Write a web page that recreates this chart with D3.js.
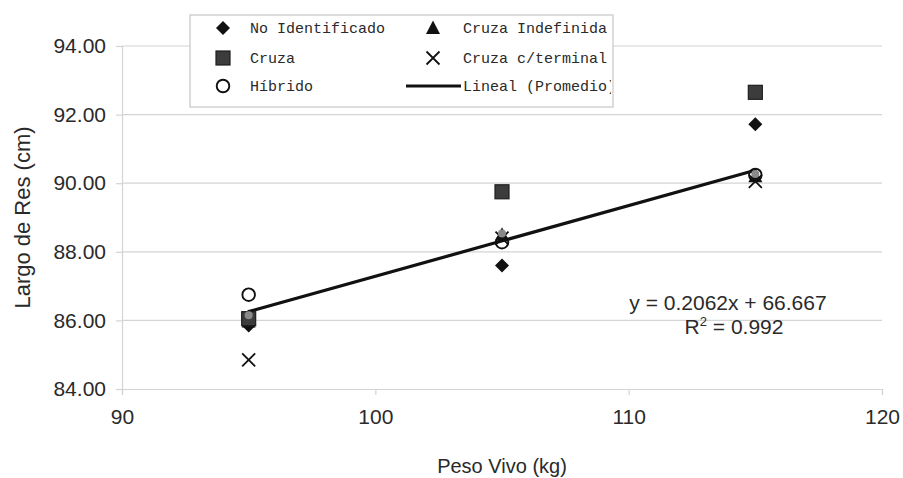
<!DOCTYPE html>
<html>
<head>
<meta charset="utf-8">
<script src="https://cdn.jsdelivr.net/npm/d3@7"></script>
<style>
  html, body { margin: 0; padding: 0; background: #fff; }
  svg { display: block; }
  text { font-family: "Liberation Sans", Arial, sans-serif; fill: #2a2a2a; }
</style>
</head>
<body>
<svg id="chart" width="903" height="478"></svg>
<script>
// ---- Data ----
const pesoVivo = [95, 105, 115];
const noIdentificado = [85.85, 87.6, 91.72];
const cruza = [86.05, 89.75, 92.65];
const hibrido = [86.75, 88.28, 90.24];
const cruzaIndefinida = [85.97, 88.5, 90.2];
const cruzaTerminal = [84.85, 88.4, 90.05];
const promedio = [86.15, 88.53, 90.27];
const xTicks = [90, 100, 110, 120];
const yTicks = [84, 86, 88, 90, 92, 94];
const legendLabels = ["No Identificado", "Cruza Indefinida", "Cruza", "Cruza c/terminal", "Híbrido", "Lineal (Promedio)"];
const equationText = "y = 0.2062x + 66.667";
const r2Text = "0.992";

// ---- Layout ----
const svg = d3.select("#chart");
const L = 122, R = 882, T = 46, B = 389;
const x = d3.scaleLinear().domain([90, 120]).range([L, R]);
const y = d3.scaleLinear().domain([84, 94]).range([B, T]);
const gridColor = "#d4d4d4";

// gridlines
svg.append("g").selectAll("line").data(yTicks.filter(v => v !== 84)).join("line")
  .attr("x1", L).attr("x2", R).attr("y1", d => y(d)).attr("y2", d => y(d))
  .attr("stroke", gridColor).attr("stroke-width", 1.2);

// axes
const yAxis = svg.append("g").attr("transform", `translate(${L},0)`)
  .call(d3.axisLeft(y).tickValues(yTicks).tickFormat(d3.format(".2f")).tickSize(6).tickPadding(10));
const xAxis = svg.append("g").attr("transform", `translate(0,${B})`)
  .call(d3.axisBottom(x).tickValues(xTicks).tickFormat(d3.format("d")).tickSize(6).tickPadding(14));
[yAxis, xAxis].forEach(g => {
  g.select(".domain").attr("stroke", gridColor).attr("stroke-width", 1.2);
  g.selectAll(".tick line").attr("stroke", gridColor).attr("stroke-width", 1.2);
  g.selectAll(".tick text").style("font-family", '"Liberation Sans", Arial, sans-serif')
    .style("font-size", "21px").attr("fill", "#333");
});

// axis titles
svg.append("text").attr("x", (L + R) / 2).attr("y", 473).attr("text-anchor", "middle")
  .style("font-size", "20px").text("Peso Vivo (kg)");
svg.append("text").attr("transform", `translate(30,${(T + B) / 2}) rotate(-90)`)
  .attr("text-anchor", "middle").style("font-size", "22px").text("Largo de Res (cm)");

// trend line (linear regression of promedio)
const mx = d3.mean(pesoVivo), my = d3.mean(promedio);
const slope = d3.sum(pesoVivo.map((v, i) => (v - mx) * (promedio[i] - my))) / d3.sum(pesoVivo.map(v => (v - mx) ** 2));
const intercept = my - slope * mx;
const x0 = d3.min(pesoVivo), x1 = d3.max(pesoVivo);
svg.append("line")
  .attr("x1", x(x0)).attr("y1", y(slope * x0 + intercept))
  .attr("x2", x(x1)).attr("y2", y(slope * x1 + intercept))
  .attr("stroke", "#111").attr("stroke-width", 3.2).attr("stroke-linecap", "round");

// marker drawers
function drawMarker(g, type, cx, cy) {
  if (type === "diamond") {
    g.append("path").attr("transform", `translate(${cx},${cy})`)
      .attr("d", `M0,-7L7,0L0,7L-7,0Z`).attr("fill", "#111");
  } else if (type === "square") {
    g.append("rect").attr("x", cx - 7).attr("y", cy - 7).attr("width", 14).attr("height", 14)
      .attr("fill", "#3c3c3c").attr("stroke", "#1e1e1e").attr("stroke-width", 1.2);
  } else if (type === "triangle") {
    g.append("path").attr("transform", `translate(${cx},${cy})`)
      .attr("d", `M0,-7.5L7,6L-7,6Z`).attr("fill", "#111");
  } else if (type === "x") {
    g.append("path").attr("transform", `translate(${cx},${cy})`)
      .attr("d", `M-6.5,-6.5L6.5,6.5M6.5,-6.5L-6.5,6.5`).attr("stroke", "#111").attr("stroke-width", 1.8).attr("fill", "none");
  } else if (type === "circle") {
    g.append("circle").attr("cx", cx).attr("cy", cy).attr("r", 6.3)
      .attr("fill", "none").attr("stroke", "#111").attr("stroke-width", 1.9);
  } else if (type === "grey") {
    g.append("circle").attr("cx", cx).attr("cy", cy).attr("r", 4).attr("fill", "#8a8a8a");
  }
}

const series = [
  { vals: noIdentificado, type: "diamond" },
  { vals: cruzaIndefinida, type: "triangle" },
  { vals: cruza, type: "square" },
  { vals: cruzaTerminal, type: "x" },
  { vals: hibrido, type: "circle" },
  { vals: promedio, type: "grey" }
];
const marks = svg.append("g");
series.forEach(s => s.vals.forEach((v, i) => drawMarker(marks, s.type, x(pesoVivo[i]), y(v))));

// equation
svg.append("text").attr("x", 728).attr("y", 310).attr("text-anchor", "middle")
  .style("font-size", "21px").text(equationText);
const r2 = svg.append("text").attr("x", 734).attr("y", 334).attr("text-anchor", "middle")
  .style("font-size", "21px");
r2.append("tspan").text("R");
r2.append("tspan").attr("dy", -8).style("font-size", "13px").text("2");
r2.append("tspan").attr("dy", 8).text(" = " + r2Text);

// legend
const lg = svg.append("g");
const LX = 190, LY = 15, LW = 423, LH = 92;
svg.append("defs").append("clipPath").attr("id", "lgclip")
  .append("rect").attr("x", LX).attr("y", LY).attr("width", LW - 2).attr("height", LH);
lg.append("rect").attr("x", LX).attr("y", LY).attr("width", LW).attr("height", LH)
  .attr("fill", "#fff").attr("stroke", "#c6c6c6").attr("stroke-width", 1.2);
const legendTypes = ["diamond", "triangle", "square", "x", "circle", "line"];
const rowsY = [28, 58, 86];
const lgItems = lg.append("g").attr("clip-path", "url(#lgclip)");
legendLabels.forEach((lab, i) => {
  const col = i % 2, row = Math.floor(i / 2);
  const cy = rowsY[row];
  const mxp = col === 0 ? 223 : 433;
  const tx = col === 0 ? 250 : 463;
  if (legendTypes[i] === "line") {
    lgItems.append("line").attr("x1", 406).attr("x2", 461).attr("y1", cy).attr("y2", cy)
      .attr("stroke", "#111").attr("stroke-width", 3.2);
  } else {
    drawMarker(lgItems, legendTypes[i], mxp, cy);
  }
  lgItems.append("text").attr("x", tx).attr("y", cy + 5)
    .style("font-family", '"Liberation Mono", "DejaVu Sans Mono", monospace')
    .style("font-size", "15px").attr("fill", "#222").text(lab);
});
</script>
</body>
</html>
